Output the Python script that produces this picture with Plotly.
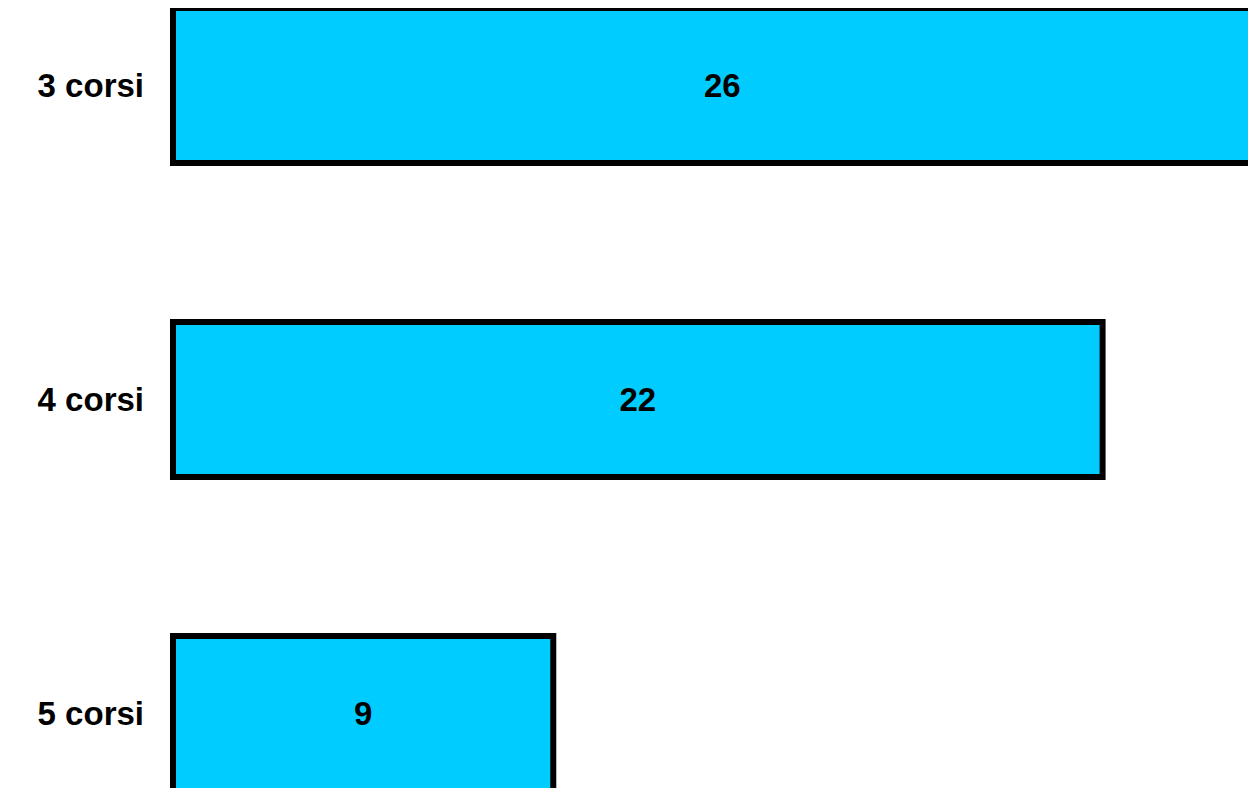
import plotly.graph_objects as go

categories = ["3 corsi", "4 corsi", "5 corsi"]
values = [26, 22, 9]

fig = go.Figure(
    go.Bar(
        x=values,
        y=categories,
        orientation="h",
        width=0.494,
        marker=dict(color="#00CCFF", line=dict(color="#000000", width=6)),
        text=[str(v) for v in values],
        textposition="inside",
        insidetextanchor="middle",
        textangle=0,
        textfont=dict(family="Liberation Sans, Arial, sans-serif", size=33, color="#000000", weight="bold"),
        hoverinfo="skip",
    )
)

fig.update_layout(
    width=1256,
    height=788,
    margin=dict(l=157, r=0, t=0, b=0),
    paper_bgcolor="#ffffff",
    plot_bgcolor="#ffffff",
    showlegend=False,
    xaxis=dict(
        range=[-0.189, 25.82],
        showgrid=False,
        zeroline=False,
        showticklabels=False,
        showline=False,
        ticks="",
    ),
    yaxis=dict(
        type="category",
        categoryorder="array",
        categoryarray=categories,
        range=[2.2627, -0.2468],
        showgrid=False,
        zeroline=False,
        showline=False,
        ticks="",
        ticklabelstandoff=20,
        tickfont=dict(family="Liberation Sans, Arial, sans-serif", size=33, color="#000000", weight="bold"),
    ),
)

fig.write_html("out.html")
